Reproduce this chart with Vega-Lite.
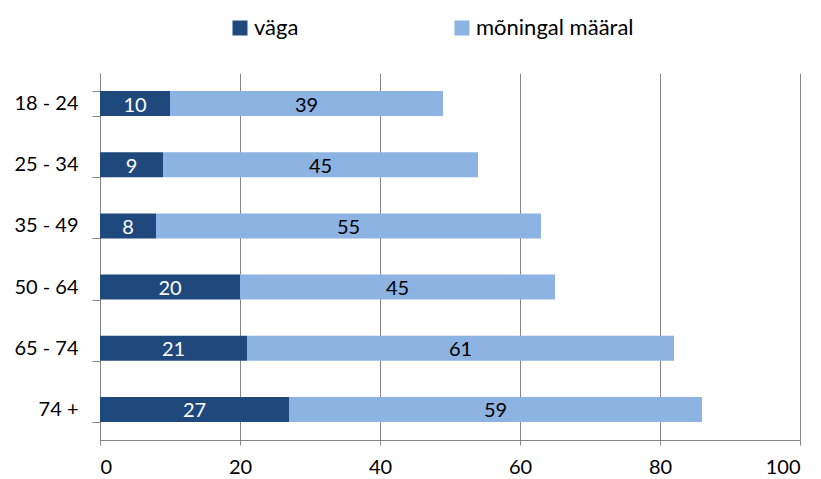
{
  "$schema": "https://vega.github.io/schema/vega-lite/v6.json",
  "width": 700,
  "height": 367,
  "autosize": {"type": "none"},
  "padding": {"left": 100, "top": 73, "right": 21, "bottom": 39},
  "background": "white",
  "config": {
    "font": "Lato",
    "view": {"stroke": null},
    "axis": {"labelFont": "Lato", "labelFontSize": 20, "labelColor": "#000000", "domainColor": "#868686", "tickColor": "#868686", "gridColor": "#868686"}
  },
  "data": {
    "values": [
      {"age": "18 - 24", "kind": "väga", "v": 10},
      {"age": "18 - 24", "kind": "mõningal määral", "v": 39},
      {"age": "25 - 34", "kind": "väga", "v": 9},
      {"age": "25 - 34", "kind": "mõningal määral", "v": 45},
      {"age": "35 - 49", "kind": "väga", "v": 8},
      {"age": "35 - 49", "kind": "mõningal määral", "v": 55},
      {"age": "50 - 64", "kind": "väga", "v": 20},
      {"age": "50 - 64", "kind": "mõningal määral", "v": 45},
      {"age": "65 - 74", "kind": "väga", "v": 21},
      {"age": "65 - 74", "kind": "mõningal määral", "v": 61},
      {"age": "74 +", "kind": "väga", "v": 27},
      {"age": "74 +", "kind": "mõningal määral", "v": 59}
    ]
  },
  "transform": [
    {"calculate": "datum.kind === 'väga' ? 0 : 1", "as": "ord"},
    {"stack": "v", "groupby": ["age"], "sort": [{"field": "ord"}], "as": ["v0", "v1"]},
    {"calculate": "(datum.v0 + datum.v1) / 2", "as": "mid"}
  ],
  "encoding": {
    "y": {
      "field": "age", "type": "nominal", "sort": null, "title": null,
      "scale": {"paddingInner": 0.59, "paddingOuter": 0.295},
      "axis": {"tickBand": "extent", "tickSize": 8, "labelPadding": 14, "domainWidth": 1, "tickWidth": 1}
    }
  },
  "layer": [
    {
      "mark": {"type": "bar"},
      "encoding": {
        "x": {
          "field": "v0", "type": "quantitative", "title": null,
          "scale": {"domain": [0, 100], "nice": false},
          "axis": {"values": [0, 20, 40, 60, 80, 100], "grid": true, "tickSize": 5, "labelPadding": 12, "domain": true, "gridWidth": 1}
        },
        "x2": {"field": "v1"},
        "color": {
          "field": "kind", "type": "nominal", "title": null,
          "scale": {"domain": ["väga", "mõningal määral"], "range": ["#1F497D", "#8DB3E2"]},
          "legend": {
            "orient": "none", "legendX": 129, "legendY": -56, "direction": "horizontal",
            "symbolType": "square", "symbolSize": 225, "symbolStrokeWidth": 0,
            "labelFontSize": 22, "labelFont": "Lato", "labelColor": "#000000",
            "columnPadding": 152, "labelOffset": 3
          }
        }
      }
    },
    {
      "mark": {"type": "text", "fontSize": 20, "font": "Lato", "baseline": "middle", "align": "center", "dy": 2},
      "encoding": {
        "x": {"field": "mid", "type": "quantitative"},
        "text": {"field": "v", "type": "quantitative"},
        "color": {
          "condition": {"test": "datum.kind === 'väga'", "value": "white"},
          "value": "black"
        }
      }
    }
  ]
}
